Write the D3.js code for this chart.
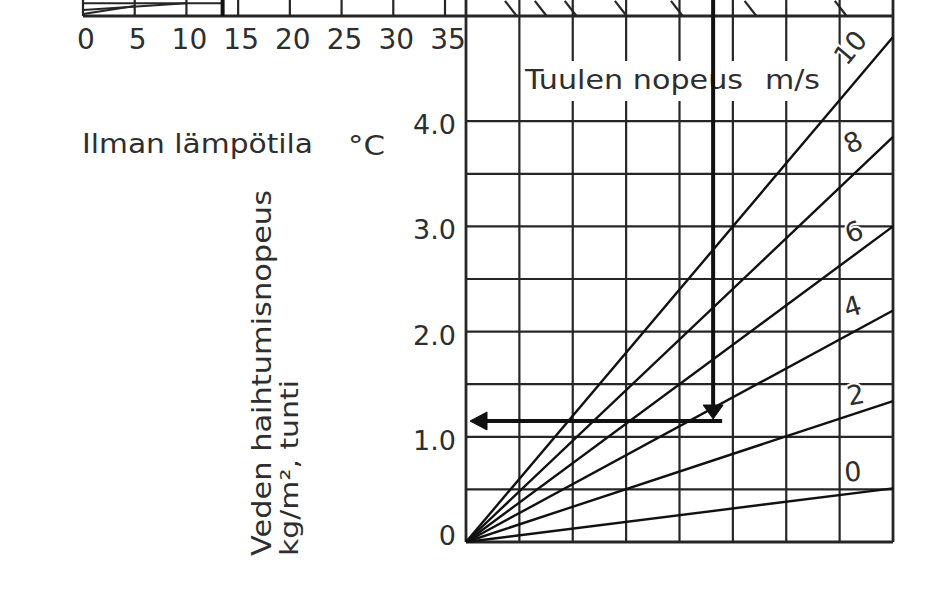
<!DOCTYPE html>
<html><head><meta charset="utf-8">
<script src="https://cdn.jsdelivr.net/npm/d3@7"></script>
<style>body{margin:0;background:#fff}svg{display:block}</style></head>
<body><svg id="c" width="951" height="590"></svg>
<script>
// ---- data ----
const windSpeeds = [0, 2, 4, 6, 8, 10];                 // Tuulen nopeus m/s
const evapAtRightEdge = [0.51, 1.34, 2.2, 3.0, 3.85, 4.8]; // value where each line meets x = 8
const xGridValues = [0, 1, 2, 3, 4, 5, 6, 7, 8];
const yGridValues = [0, 0.5, 1, 1.5, 2, 2.5, 3, 3.5, 4, 5];
const yTickValues = [0, 1, 2, 3, 4];
const yTickLabels = ["0", "1.0", "2.0", "3.0", "4.0"];
const tempTicks = [0, 5, 10, 15, 20, 25, 30, 35];       // Ilman lämpötila °C
const windLabelPos = [[7.25, 0.67], [7.30, 1.40], [7.24, 2.24], [7.27, 2.95], [7.25, 3.80], [7.2, 4.70]];
const upperCurveX = [0.95, 1.51, 2.07, 3.01, 4.06, 5.44, 7.13]; // cut-off curves of the chart above
const upperLeftCurves = [[[0, 0.05], [5, 0.25]], [[0, 0.15], [10, 0.32]]];
const reading = { tempC: 13.5, x: 4.63, wind: 4, evap: 1.15 };

// ---- scales ----
const svg = d3.select("#c");
const x = d3.scaleLinear([0, 8], [466, 893]);
const y = d3.scaleLinear([0, 5], [542, 16]);
const t = d3.scaleLinear([0, 35], [83, 445]);
const yUp = d3.scaleLinear([0, 1], [y(5), y(5) - 40]);
const INK = "#262626", TXT = "#2e2e2e";
const FONT = "'DejaVu Sans', 'Liberation Sans', Arial, sans-serif";

svg.append("rect").attr("width", 951).attr("height", 590).attr("fill", "#fff");

// ---- upper-left (temperature) panel, cut off ----
const up = svg.append("g");
up.selectAll("line.tv").data(tempTicks).join("line")
  .attr("x1", d => t(d)).attr("x2", d => t(d)).attr("y1", -2).attr("y2", y(5))
  .attr("stroke", INK).attr("stroke-width", 2.2);
up.append("line").attr("x1", t(0)).attr("x2", t(reading.tempC)).attr("y1", yUp(0.32)).attr("y2", yUp(0.32))
  .attr("stroke", INK).attr("stroke-width", 2);
up.selectAll("path.ulc").data(upperLeftCurves).join("path")
  .attr("d", d => d3.line().x(p => t(p[0])).y(p => yUp(p[1]))(d))
  .attr("fill", "none").attr("stroke", INK).attr("stroke-width", 2);
up.selectAll("text.tt").data(tempTicks).join("text")
  .attr("x", d => t(d) + 3).attr("y", 49).attr("text-anchor", "middle")
  .attr("font-family", FONT).attr("font-size", 28).attr("fill", TXT).text(d => d);

// ---- main grid ----
const g = svg.append("g");
g.selectAll("line.vx").data(xGridValues).join("line")
  .attr("x1", d => x(d)).attr("x2", d => x(d)).attr("y1", y(0)).attr("y2", -2)
  .attr("stroke", INK).attr("stroke-width", d => (d === 0 || d === 8) ? 2.8 : 2.2);
g.selectAll("line.hy").data(yGridValues).join("line")
  .attr("x1", d => d === 5 ? t(0) : x(0)).attr("x2", x(8)).attr("y1", d => y(d)).attr("y2", d => y(d))
  .attr("stroke", INK).attr("stroke-width", d => (d === 0 || d === 5) ? 2.8 : 2.2);

// cut-off curves from the chart above
g.selectAll("line.uc").data(upperCurveX).join("line")
  .attr("x1", d => x(d - 0.22)).attr("y1", yUp(0.38)).attr("x2", d => x(d)).attr("y2", yUp(0))
  .attr("stroke", INK).attr("stroke-width", 2.2);

// y tick labels
g.selectAll("text.yt").data(yTickValues).join("text")
  .attr("x", 456).attr("y", d => Math.min(y(d) + 13, y(0) + 3))
  .attr("text-anchor", "end").attr("font-family", FONT).attr("font-size", 27)
  .attr("fill", TXT).text((d, i) => yTickLabels[i]);

// wind-speed title with white background
const tBox = g.append("rect").attr("fill", "#fff");
g.append("text").attr("x", 525).attr("y", 89).attr("font-family", FONT).attr("font-size", 27)
  .attr("fill", TXT).attr("textLength", 218).attr("lengthAdjust", "spacingAndGlyphs").text("Tuulen nopeus");
g.append("text").attr("x", 765).attr("y", 89).attr("font-family", FONT).attr("font-size", 27)
  .attr("fill", TXT).attr("textLength", 55).attr("lengthAdjust", "spacingAndGlyphs").text("m/s");
tBox.attr("x", 521).attr("y", 61).attr("width", 305).attr("height", 40);

// wind lines
const series = windSpeeds.map((w, i) => ({ w, pts: [[0, 0], [8, evapAtRightEdge[i]]] }));
g.selectAll("path.wl").data(series).join("path")
  .attr("d", d => d3.line().x(p => x(p[0])).y(p => y(p[1]))(d.pts))
  .attr("fill", "none").attr("stroke", "#111").attr("stroke-width", 2.4);

// wind line labels
g.selectAll("text.wl").data(series).join("text")
  .attr("transform", (d, i) => {
    const ang = Math.atan2(y(d.pts[1][1]) - y(0), x(8) - x(0)) * 180 / Math.PI;
    const k = d.w === 10 ? 1 : 0.6;
    return `translate(${x(windLabelPos[i][0])},${y(windLabelPos[i][1])}) rotate(${ang * k})`;
  })
  .attr("text-anchor", "middle").attr("dominant-baseline", "central")
  .attr("font-family", FONT).attr("font-size", 27).attr("fill", TXT)
  .attr("stroke", "#fff").attr("stroke-width", 4).attr("paint-order", "stroke")
  .text(d => d.w);

// ---- reading path ----
const rp = svg.append("g").attr("fill", "#111").attr("stroke", "#111");
const xr = x(reading.x), yh = y(reading.evap), xt = t(reading.tempC);
rp.append("line").attr("x1", xt).attr("x2", xt).attr("y1", -2).attr("y2", y(5)).attr("stroke-width", 4);
rp.append("line").attr("x1", xr).attr("x2", xr).attr("y1", -2).attr("y2", yh - 12).attr("stroke-width", 4);
rp.append("path").attr("stroke-width", 1)
  .attr("d", `M${xr - 10},${yh - 16}L${xr + 10},${yh - 16}L${xr},${yh - 2}Z`);
rp.append("line").attr("x1", xr + 9).attr("x2", x(0) + 16).attr("y1", yh).attr("y2", yh).attr("stroke-width", 4);
rp.append("path").attr("stroke-width", 1)
  .attr("d", `M${x(0) + 4},${yh}L${x(0) + 21},${yh - 9}L${x(0) + 21},${yh + 9}Z`);

// ---- titles ----
svg.append("text").attr("x", 82).attr("y", 153).attr("font-family", FONT).attr("font-size", 27)
  .attr("fill", TXT).attr("textLength", 231).attr("lengthAdjust", "spacingAndGlyphs").text("Ilman lämpötila");
svg.append("text").attr("x", 348).attr("y", 155).attr("font-family", FONT).attr("font-size", 26)
  .attr("fill", TXT).attr("textLength", 37).attr("lengthAdjust", "spacingAndGlyphs").text("°C");
svg.append("text").attr("transform", "translate(271,556) rotate(-90)")
  .attr("font-family", FONT).attr("font-size", 27).attr("fill", TXT)
  .attr("textLength", 366).attr("lengthAdjust", "spacingAndGlyphs").text("Veden haihtumisnopeus");
svg.append("text").attr("transform", "translate(298,556) rotate(-90)")
  .attr("font-family", FONT).attr("font-size", 25).attr("fill", TXT)
  .attr("textLength", 176).attr("lengthAdjust", "spacingAndGlyphs").text("kg/m², tunti");
</script></body></html>
